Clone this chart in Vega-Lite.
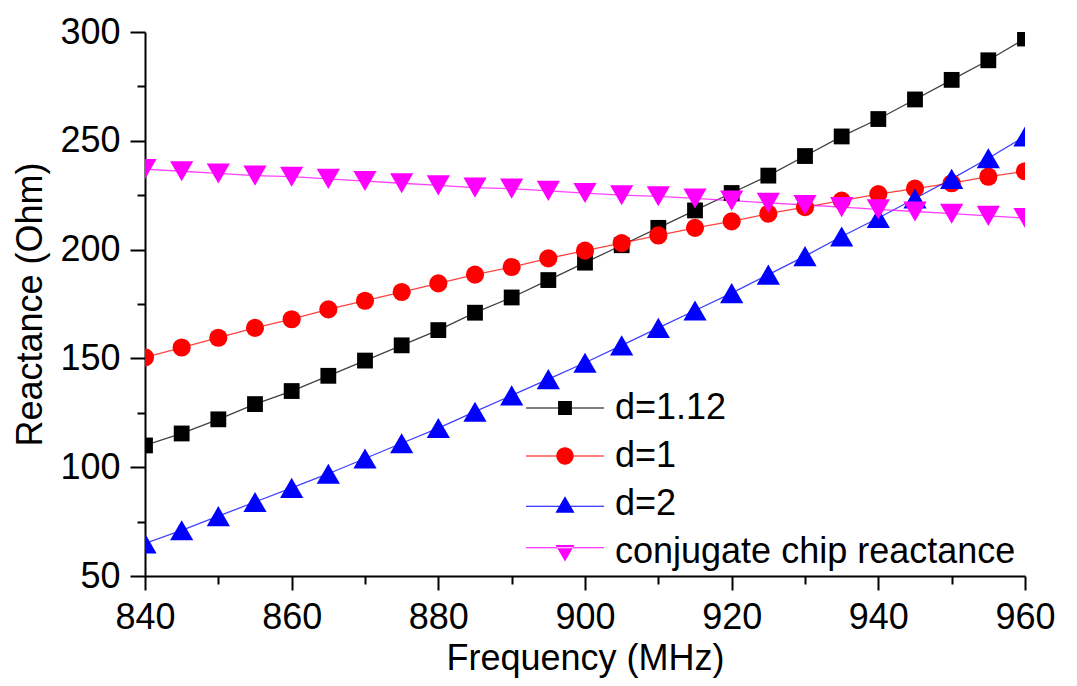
{
  "$schema": "https://vega.github.io/schema/vega-lite/v6.json",
  "width": 880,
  "height": 544,
  "autosize": "none",
  "padding": {"left": 145, "top": 32, "right": 52, "bottom": 110},
  "background": "white",
  "config": {
    "view": {"stroke": null},
    "font": "Liberation Sans",
    "axis": {"labelFont": "Liberation Sans", "titleFont": "Liberation Sans", "labelColor": "black", "titleColor": "black", "domainColor": "black", "tickColor": "black", "domainWidth": 2, "tickWidth": 2, "grid": false, "labelFontSize": 36, "titleFontSize": 36, "titleFontWeight": "normal"},
    "legend": {"symbolOpacity": 1}
  },
  "data": {"values": [
    {"f":840,"s":"d=1.12","v":110},{"f":845,"s":"d=1.12","v":115.5},{"f":850,"s":"d=1.12","v":122},{"f":855,"s":"d=1.12","v":129},{"f":860,"s":"d=1.12","v":135},{"f":865,"s":"d=1.12","v":142},{"f":870,"s":"d=1.12","v":149},{"f":875,"s":"d=1.12","v":156},{"f":880,"s":"d=1.12","v":163},{"f":885,"s":"d=1.12","v":171},{"f":890,"s":"d=1.12","v":178},{"f":895,"s":"d=1.12","v":186},{"f":900,"s":"d=1.12","v":194},{"f":905,"s":"d=1.12","v":202},{"f":910,"s":"d=1.12","v":210},{"f":915,"s":"d=1.12","v":218},{"f":920,"s":"d=1.12","v":226},{"f":925,"s":"d=1.12","v":234},{"f":930,"s":"d=1.12","v":243},{"f":935,"s":"d=1.12","v":252},{"f":940,"s":"d=1.12","v":260},{"f":945,"s":"d=1.12","v":269},{"f":950,"s":"d=1.12","v":278},{"f":955,"s":"d=1.12","v":287},{"f":960,"s":"d=1.12","v":297},
    {"f":840,"s":"d=1","v":150.5},{"f":845,"s":"d=1","v":155},{"f":850,"s":"d=1","v":159.5},{"f":855,"s":"d=1","v":164},{"f":860,"s":"d=1","v":168},{"f":865,"s":"d=1","v":172.5},{"f":870,"s":"d=1","v":176.5},{"f":875,"s":"d=1","v":180.5},{"f":880,"s":"d=1","v":184.5},{"f":885,"s":"d=1","v":188.5},{"f":890,"s":"d=1","v":192},{"f":895,"s":"d=1","v":196},{"f":900,"s":"d=1","v":199.5},{"f":905,"s":"d=1","v":203},{"f":910,"s":"d=1","v":206.5},{"f":915,"s":"d=1","v":210},{"f":920,"s":"d=1","v":213},{"f":925,"s":"d=1","v":216.5},{"f":930,"s":"d=1","v":219.5},{"f":935,"s":"d=1","v":222.5},{"f":940,"s":"d=1","v":225.5},{"f":945,"s":"d=1","v":228},{"f":950,"s":"d=1","v":230.5},{"f":955,"s":"d=1","v":233.5},{"f":960,"s":"d=1","v":236},
    {"f":840,"s":"d=2","v":65},{"f":845,"s":"d=2","v":71},{"f":850,"s":"d=2","v":77.5},{"f":855,"s":"d=2","v":84},{"f":860,"s":"d=2","v":90.5},{"f":865,"s":"d=2","v":97},{"f":870,"s":"d=2","v":104},{"f":875,"s":"d=2","v":111},{"f":880,"s":"d=2","v":118},{"f":885,"s":"d=2","v":125.5},{"f":890,"s":"d=2","v":133},{"f":895,"s":"d=2","v":140.5},{"f":900,"s":"d=2","v":148},{"f":905,"s":"d=2","v":156},{"f":910,"s":"d=2","v":164},{"f":915,"s":"d=2","v":172},{"f":920,"s":"d=2","v":180},{"f":925,"s":"d=2","v":188.5},{"f":930,"s":"d=2","v":197},{"f":935,"s":"d=2","v":206},{"f":940,"s":"d=2","v":214.5},{"f":945,"s":"d=2","v":223.5},{"f":950,"s":"d=2","v":232.5},{"f":955,"s":"d=2","v":242},{"f":960,"s":"d=2","v":252},
    {"f":840,"s":"conjugate chip reactance","v":237},{"f":845,"s":"conjugate chip reactance","v":236},{"f":850,"s":"conjugate chip reactance","v":235},{"f":855,"s":"conjugate chip reactance","v":234},{"f":860,"s":"conjugate chip reactance","v":233.5},{"f":865,"s":"conjugate chip reactance","v":232.5},{"f":870,"s":"conjugate chip reactance","v":231.5},{"f":875,"s":"conjugate chip reactance","v":230.5},{"f":880,"s":"conjugate chip reactance","v":229.5},{"f":885,"s":"conjugate chip reactance","v":228.5},{"f":890,"s":"conjugate chip reactance","v":228},{"f":895,"s":"conjugate chip reactance","v":227},{"f":900,"s":"conjugate chip reactance","v":226},{"f":905,"s":"conjugate chip reactance","v":225},{"f":910,"s":"conjugate chip reactance","v":224.5},{"f":915,"s":"conjugate chip reactance","v":223.5},{"f":920,"s":"conjugate chip reactance","v":222.5},{"f":925,"s":"conjugate chip reactance","v":221.5},{"f":930,"s":"conjugate chip reactance","v":220.5},{"f":935,"s":"conjugate chip reactance","v":219.5},{"f":940,"s":"conjugate chip reactance","v":218.5},{"f":945,"s":"conjugate chip reactance","v":217.5},{"f":950,"s":"conjugate chip reactance","v":216.5},{"f":955,"s":"conjugate chip reactance","v":215.5},{"f":960,"s":"conjugate chip reactance","v":214.5}
  ]},
  "encoding": {
    "x": {"field": "f", "type": "quantitative", "scale": {"domain": [840, 960], "nice": false, "zero": false},
      "axis": {"title": "Frequency (MHz)", "values": [840,850,860,870,880,890,900,910,920,930,940,950,960],
        "labelExpr": "datum.value % 20 === 0 ? datum.label : ''",
        "tickSize": {"condition": {"test": "datum.value % 20 === 0", "value": 14}, "value": 8},
        "labelPadding": 10, "titlePadding": 6, "labelFlush": false}},
    "y": {"field": "v", "type": "quantitative", "scale": {"domain": [50, 300], "nice": false, "zero": false},
      "axis": {"title": "Reactance (Ohm)", "values": [50,75,100,125,150,175,200,225,250,275,300],
        "labelExpr": "datum.value % 50 === 0 ? datum.label : ''",
        "tickSize": {"condition": {"test": "datum.value % 50 === 0", "value": 15}, "value": 8},
        "labelPadding": 10, "titlePadding": 10, "labelFlush": false}},
    "color": {"field": "s", "type": "nominal",
      "scale": {"domain": ["d=1.12","d=1","d=2","conjugate chip reactance"], "range": ["#000000","#ff0000","#0000ff","#ff00ff"]},
      "legend": {"title": null, "orient": "none", "legendX": 402, "legendY": 358, "padding": 0, "rowPadding": 12,
        "labelFontSize": 36, "labelFont": "Liberation Sans", "labelColor": "black", "symbolSize": 300, "labelOffset": 32, "labelLimit": 600,
        "encode": {"symbols": {"update": {
          "shape": {"signal": "datum.value === 'd=1.12' ? 'M-4.5,-0.06H4.5V0.06H-4.5ZM-0.8,-0.8H0.8V0.8H-0.8Z' : datum.value === 'd=1' ? 'M-4.5,-0.06H4.5V0.06H-4.5ZM1,0A1,1 0 1,1 -1,0A1,1 0 1,1 1,0Z' : datum.value === 'd=2' ? 'M-4.5,0.19H4.5V0.31H-4.5ZM0,-0.9L1.1,1.0H-1.1Z' : 'M-4.5,-0.56H4.5V-0.44H-4.5ZM0,1.1L1.1,-0.8H-1.1Z'"},
          "fill": {"signal": "scale('color', datum.value)"},
          "strokeWidth": {"value": 0}
        }}}}}
  },
  "layer": [
    {"mark": {"type": "line", "strokeWidth": 1.3, "opacity": 0.75, "clip": true},
     "encoding": {"detail": {"field": "s"}}},
    {"transform": [{"filter": "datum.s === 'd=1.12'"}],
     "mark": {"type": "point", "shape": "square", "size": 250, "filled": true, "opacity": 1, "clip": true}},
    {"transform": [{"filter": "datum.s === 'd=1'"}],
     "mark": {"type": "point", "shape": "circle", "size": 330, "filled": true, "opacity": 1, "clip": true}},
    {"transform": [{"filter": "datum.s === 'd=2'"}],
     "mark": {"type": "point", "shape": "triangle-up", "size": 540, "filled": true, "opacity": 1, "clip": true}},
    {"transform": [{"filter": "datum.s === 'conjugate chip reactance'"}],
     "mark": {"type": "point", "shape": "triangle-down", "size": 540, "filled": true, "opacity": 1, "clip": true}}
  ]
}
